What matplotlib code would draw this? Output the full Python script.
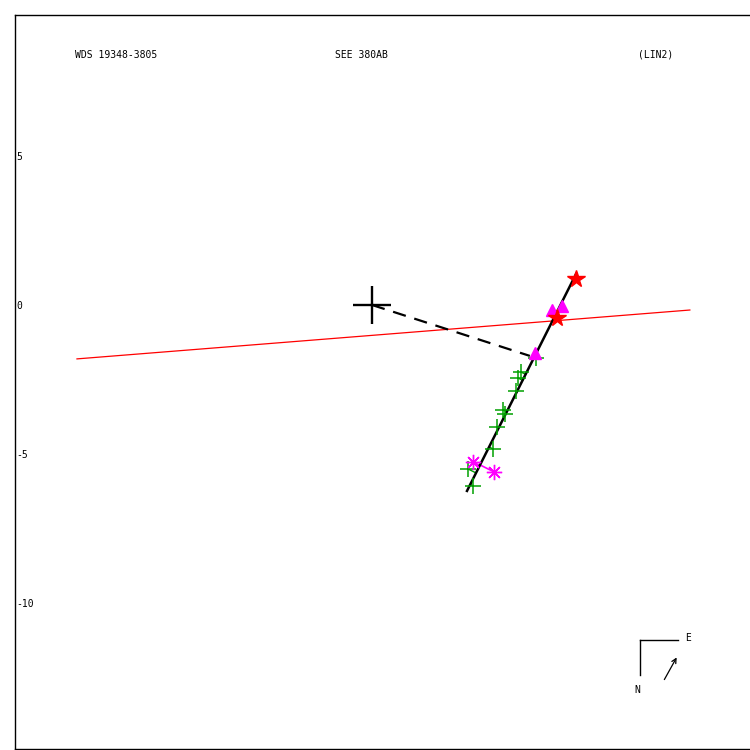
import matplotlib
matplotlib.use("Agg")
import matplotlib.pyplot as plt
import numpy as np

# Relative positions (arcsec-like units)
primary = (0.0, 0.0)

orbit_start = (3.19, -6.24)
orbit_end = (6.85, 1.04)

node_line_x = [-9.90, 10.67]
node_line_y = [-1.81, -0.17]

periastron = (5.30, -1.71)

green_x = [5.50, 5.00, 4.90, 4.83, 4.40, 4.46, 4.19, 4.06, 3.22, 3.39]
green_y = [-1.78, -2.25, -2.45, -2.89, -3.52, -3.66, -4.09, -4.83, -5.50, -6.07]

aster_x = [3.39, 4.09]
aster_y = [-5.27, -5.60]

tri_x = [6.04, 6.38, 5.47]
tri_y = [-0.17, -0.03, -1.61]

star_x = [6.85, 6.21]
star_y = [0.87, -0.44]

yticks = [5, 0, -5, -10]

title_left = "WDS 19348-3805"
title_mid = "SEE 380AB"
title_right = "(LIN2)"


def project(px, py):
    """Project points onto the orbit segment (for residual lines)."""
    a = np.array(orbit_start)
    d = np.array(orbit_end) - a
    pts = np.column_stack([px, py]) - a
    t = pts @ d / (d @ d)
    return a[0] + t * d[0], a[1] + t * d[1]


fig = plt.figure(figsize=(7.5, 7.5), dpi=100)
ax = fig.add_axes([0.02, 0.00133, 0.99, 0.9787])
ax.set_xlim(-11.98, 12.94)
ax.set_ylim(-14.90, 9.73)
for sp in ax.spines.values():
    sp.set_linewidth(1.0)

mono = "DejaVu Sans Mono"

# node line
ax.plot(node_line_x, node_line_y, color="red", lw=0.9)

# orbit (degenerate / linear)
ax.plot([orbit_start[0], orbit_end[0]], [orbit_start[1], orbit_end[1]],
        color="black", lw=1.8, zorder=3)

# line to periastron
ax.plot([primary[0], periastron[0]], [primary[1], periastron[1]],
        color="black", lw=1.6, dashes=(6, 4))

# residual lines
gx, gy = project(green_x, green_y)
for x0, y0, x1, y1 in zip(green_x, green_y, gx, gy):
    ax.plot([x0, x1], [y0, y1], color="#00a000", lw=1.0)
ax_, ay_ = project(aster_x, aster_y)
for x0, y0, x1, y1 in zip(aster_x, aster_y, ax_, ay_):
    ax.plot([x0, x1], [y0, y1], color="magenta", lw=1.2)

# measurements
ax.plot(green_x, green_y, ls="none", marker="+", ms=11, mew=1.1,
        color="#00a000", zorder=4)
ax.plot(aster_x, aster_y, ls="none", marker=(8, 2, 0), ms=11, mew=1.0,
        color="magenta", zorder=4)
ax.plot(tri_x, tri_y, ls="none", marker="^", ms=9, color="magenta",
        mec="magenta", zorder=4)
ax.plot(star_x, star_y, ls="none", marker="*", ms=13, color="red",
        mec="red", zorder=5)

# primary
ax.plot(*primary, marker="+", ms=27, mew=1.7, color="black", zorder=5)

# y tick labels inside the frame
ax.set_xticks([])
ax.set_yticks(yticks)
ax.set_yticklabels([str(v) for v in yticks], fontsize=7, family=mono)
ax.tick_params(axis="y", length=0, pad=-1.2)
for lab in ax.get_yticklabels():
    lab.set_horizontalalignment("left")

# header texts
ax.text(0.081, 0.9455, title_left, transform=ax.transAxes, fontsize=7,
        family=mono, ha="left", va="center")
ax.text(0.467, 0.9455, title_mid, transform=ax.transAxes, fontsize=7,
        family=mono, ha="center", va="center")
ax.text(0.839, 0.9455, title_right, transform=ax.transAxes, fontsize=7,
        family=mono, ha="left", va="center")

# compass
fig.lines.append(plt.Line2D([640 / 750, 640 / 750], [1 - 675 / 750, 1 - 640 / 750],
                            transform=fig.transFigure, color="black", lw=1))
fig.lines.append(plt.Line2D([640 / 750, 678 / 750], [1 - 640 / 750, 1 - 640 / 750],
                            transform=fig.transFigure, color="black", lw=1))
fig.text(688 / 750, 1 - 638 / 750, "E", fontsize=7, family=mono,
         ha="center", va="center")
fig.text(637 / 750, 1 - 690 / 750, "N", fontsize=7, family=mono,
         ha="center", va="center")
ax.annotate("", xy=(678 / 750, 1 - 655 / 750), xytext=(663 / 750, 1 - 682 / 750),
            xycoords="figure fraction", textcoords="figure fraction",
            arrowprops=dict(arrowstyle="->", color="black", lw=0.9,
                            mutation_scale=8))

fig.savefig("out.png", dpi=100)
